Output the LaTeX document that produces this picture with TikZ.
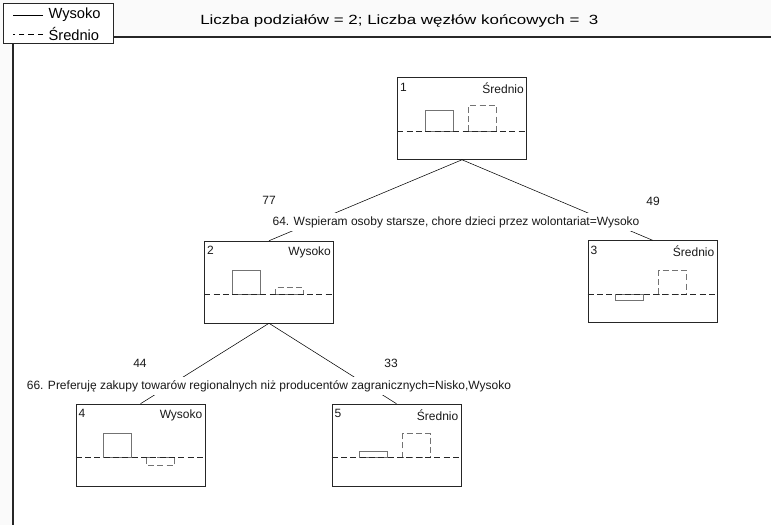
\documentclass[tikz,border=0pt]{standalone}
\usepackage{fontspec}
\setmainfont{Liberation Sans}
\newfontfamily\titlefont[FakeStretch=1.27]{Liberation Sans}
\usetikzlibrary{positioning}

\tikzset{
  leaf/.style={draw=black!85, minimum width=96.75pt, minimum height=61.5pt, inner sep=0pt},
  lab/.style={font=\fontsize{9}{10}\selectfont, inner sep=1.5pt, text=black!90},
  corner/.style={lab, inner sep=2pt, yshift=-2pt},
  split/.style={lab, fill=white, inner sep=2.5pt},
  bar/.style={draw=black!55},
  cut/.style={draw=black!85, dash pattern=on 4.5pt off 2.5pt},
  legtxt/.style={font=\fontsize{11}{12}\selectfont, inner sep=1pt, anchor=west},
}

\begin{document}
\begin{tikzpicture}[x=0.75pt,y=-0.75pt]
    \useasboundingbox (0,0) rectangle (771,525);
    \fill[black!2] (0,0) rectangle (771,525);
    \fill[white] (13,37) rectangle (771,525);
    % frame
    \draw[line width=1pt, black!85] (113,37) -- (771,37);
    \draw[line width=1pt, black!85] (13,43) -- (13,525);
    \node[draw=black!85, fill=white, minimum width=82.5pt, minimum height=30pt, inner sep=0pt] (legend) at (58,23) {};
    \node[legtxt] (lw) at (47,15) {Wysoko};
    \node[legtxt] (ls) at (47,34) {Średnio};
    \draw ([xshift=-3pt]lw.west) -- ++(-30,0);
    \draw[dash pattern=on 4pt off 3pt] ([xshift=-3pt]ls.west) -- ++(-30,0);
    \node[font=\titlefont\fontsize{10}{12}\selectfont, anchor=west, inner sep=0pt] (title) at (200,21) {Liczba podziałów = 2; Liczba węzłów końcowych = \ 3};

    % leaves
    \node[leaf] (n1) at (462,118.5) {};
    \node[leaf] (n2) at (269,282) {};
    \node[leaf] (n3) at (652.5,281.5) {};
    \node[leaf] (n4) at (140.5,445) {};
    \node[leaf] (n5) at (396.5,445) {};
    \foreach \n/\k/\cls/\a/\b in {n1/1/Średnio/21/26, n2/2/Wysoko/24/7, n3/3/Średnio/-6/24, n4/4/Wysoko/24/-8, n5/5/Średnio/6/24}{
      \begin{scope}[shift={(\n.north west)}]
        \draw[bar] (28,54) rectangle (56,{54-\a});
        \draw[bar, dash pattern=on 4.5pt off 2.5pt] (71,54) rectangle (99,{54-\b});
        \draw[cut] (0,54) -- (129,54);
      \end{scope}
      \node[corner, anchor=north west] at (\n.north west) {\k};
      \node[corner, anchor=north east] at (\n.north east) {\cls};
    }

    % splits
    \draw (n1.south) -- (n2.north);
    \draw (n1.south) -- (n3.north);
    \draw (n2.south) -- (n4.north);
    \draw (n2.south) -- (n5.north);
    \node[split] (s1) at (456,222) {64. Wspieram osoby starsze, chore dzieci przez wolontariat=Wysoko};
    \node[split] (s2) at (269,386) {66. Preferuję zakupy towarów regionalnych niż producentów zagranicznych=Nisko,Wysoko};
    \node[lab] (c2) at (269,200) {77};
    \node[lab] (c3) at (653,201) {49};
    \node[lab] (c4) at (140,363) {44};
    \node[lab] (c5) at (391,363) {33};
\end{tikzpicture}
\end{document}
